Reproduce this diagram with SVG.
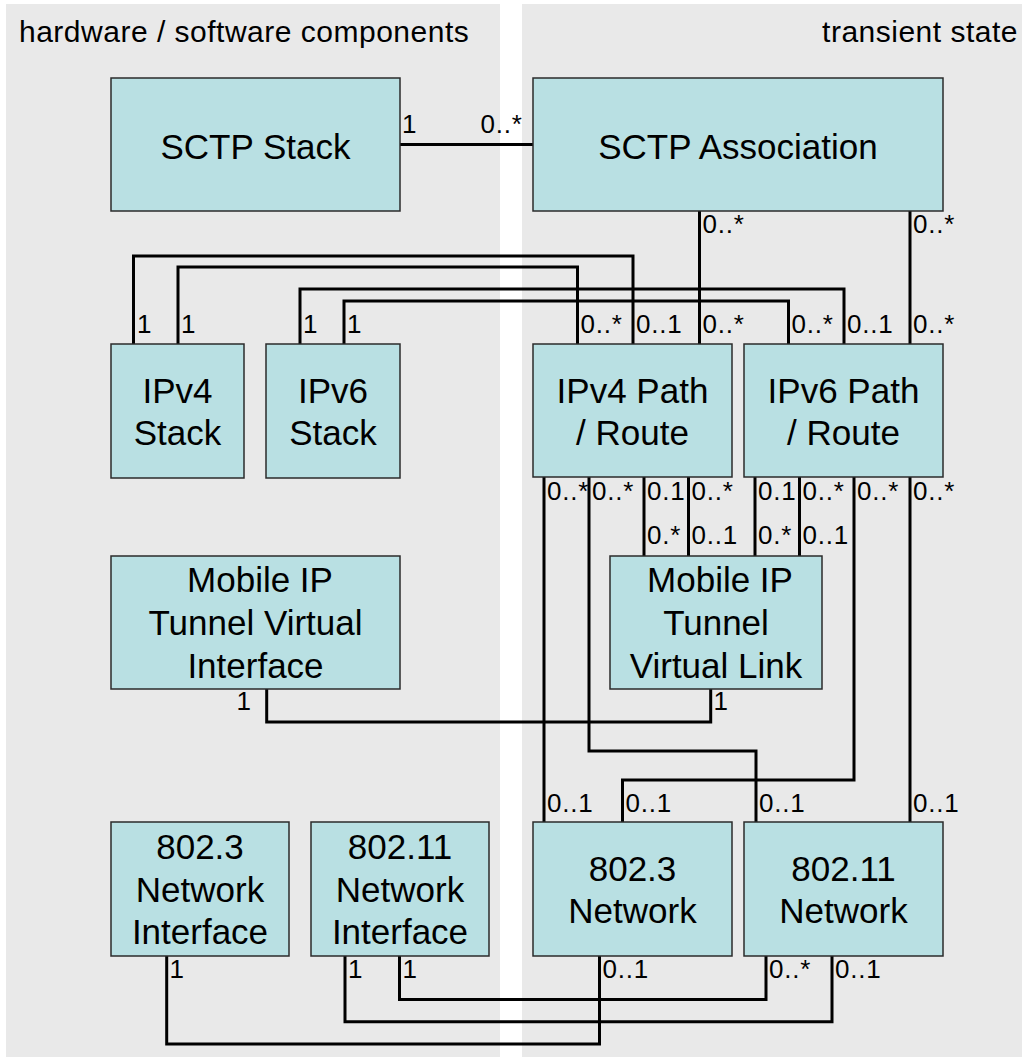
<svg xmlns="http://www.w3.org/2000/svg" width="1022" height="1057" viewBox="0 0 1022 1057">
  <style>
    .panel { fill: #e9e9e9; }
    .title { font-family: "Liberation Sans", Arial, sans-serif; font-size: 30px; letter-spacing: 0.5px; fill: #000; }
    .box { fill: #b9e0e3; stroke: #2b2b2b; stroke-width: 1.5; }
    .name { font-family: "Liberation Sans", Arial, sans-serif; font-size: 35px; fill: #000; text-anchor: middle; }
    .wire { fill: none; stroke: #000; stroke-width: 3; stroke-linejoin: miter; stroke-linecap: butt; }
    .mult { font-family: "Liberation Sans", Arial, sans-serif; font-size: 26px; letter-spacing: 0.8px; fill: #000; }
  </style>

  <!-- swim lanes -->
  <g id="lanes">
    <rect class="panel" x="6" y="4" width="494" height="1053"/>
    <rect class="panel" x="522" y="4" width="500" height="1053"/>
    <text class="title" x="19" y="42">hardware / software components</text>
    <text class="title" x="1018" y="42" text-anchor="end">transient state</text>
  </g>

  <!-- associations -->
  <g id="connectors">
    <path class="wire" d="M400,144.5 H533"/>
    <path class="wire" d="M699.5,211 V344"/>
    <path class="wire" d="M910,211 V344"/>
    <path class="wire" d="M133.5,344 V256 H633 V344"/>
    <path class="wire" d="M178,344 V267 H577.5 V344"/>
    <path class="wire" d="M300,344 V289 H844 V344"/>
    <path class="wire" d="M344,344 V301 H788.5 V344"/>
    <path class="wire" d="M544,477 V822"/>
    <path class="wire" d="M589,477 V751 H756 V822"/>
    <path class="wire" d="M644,477 V556"/>
    <path class="wire" d="M688.5,477 V556"/>
    <path class="wire" d="M755,477 V556"/>
    <path class="wire" d="M799.5,477 V556"/>
    <path class="wire" d="M854,477 V780 H622.5 V822"/>
    <path class="wire" d="M910,477 V822"/>
    <path class="wire" d="M266.7,689 V722 H710.7 V689"/>
    <path class="wire" d="M166.7,956 V1044 H599.5 V956"/>
    <path class="wire" d="M345,956 V1021.7 H832 V956"/>
    <path class="wire" d="M399.5,956 V999.5 H766 V956"/>

    <!-- multiplicities -->
    <g class="mult">
      <text x="402" y="133">1</text>
      <text x="480.5" y="133">0..*</text>
      <text x="702.5" y="233">0..*</text>
      <text x="913" y="233">0..*</text>

      <text x="137" y="333">1</text>
      <text x="181" y="333">1</text>
      <text x="303" y="333">1</text>
      <text x="347" y="333">1</text>

      <text x="580.5" y="333">0..*</text>
      <text x="636" y="333">0..1</text>
      <text x="702.5" y="333">0..*</text>
      <text x="791.5" y="333">0..*</text>
      <text x="847" y="333">0..1</text>
      <text x="913" y="333">0..*</text>

      <text x="547" y="499.5">0..*</text>
      <text x="592" y="499.5">0..*</text>
      <text x="647" y="499.5">0.1</text>
      <text x="691.5" y="499.5">0..*</text>
      <text x="758" y="499.5">0.1</text>
      <text x="802.5" y="499.5">0..*</text>
      <text x="857" y="499.5">0..*</text>
      <text x="913" y="499.5">0..*</text>

      <text x="647" y="543.5">0.*</text>
      <text x="691.5" y="543.5">0..1</text>
      <text x="758" y="543.5">0.*</text>
      <text x="802.5" y="543.5">0..1</text>

      <text x="236.5" y="710">1</text>
      <text x="713.5" y="710">1</text>

      <text x="547" y="811.5">0..1</text>
      <text x="625.5" y="811.5">0..1</text>
      <text x="759" y="811.5">0..1</text>
      <text x="913" y="811.5">0..1</text>

      <text x="169.5" y="978">1</text>
      <text x="348" y="978">1</text>
      <text x="402.5" y="978">1</text>
      <text x="602.5" y="978">0..1</text>
      <text x="769" y="978">0..*</text>
      <text x="835" y="978">0..1</text>
    </g>
  </g>

  <!-- classes -->
  <g id="sctp-stack">
    <rect class="box" x="111" y="78" width="289" height="133"/>
    <text class="name" x="255.5" y="158.5">SCTP Stack</text>
  </g>
  <g id="sctp-association">
    <rect class="box" x="533" y="78" width="410" height="133"/>
    <text class="name" x="738" y="158.5">SCTP Association</text>
  </g>
  <g id="ipv4-stack">
    <rect class="box" x="111" y="344" width="133" height="134"/>
    <text class="name" x="177.5" y="403">IPv4</text>
    <text class="name" x="177.5" y="445">Stack</text>
  </g>
  <g id="ipv6-stack">
    <rect class="box" x="266" y="344" width="134" height="134"/>
    <text class="name" x="333" y="403">IPv6</text>
    <text class="name" x="333" y="445">Stack</text>
  </g>
  <g id="ipv4-path">
    <rect class="box" x="533" y="344" width="199" height="133"/>
    <text class="name" x="632.5" y="403">IPv4 Path</text>
    <text class="name" x="632.5" y="444.5">/ Route</text>
  </g>
  <g id="ipv6-path">
    <rect class="box" x="744" y="344" width="199" height="133"/>
    <text class="name" x="843.5" y="403">IPv6 Path</text>
    <text class="name" x="843.5" y="444.5">/ Route</text>
  </g>
  <g id="mip-tunnel-interface">
    <rect class="box" x="111" y="556" width="289" height="133"/>
    <text class="name" x="260" y="591.5">Mobile IP</text>
    <text class="name" x="255.5" y="635">Tunnel Virtual</text>
    <text class="name" x="255.5" y="677.5">Interface</text>
  </g>
  <g id="mip-tunnel-link">
    <rect class="box" x="610" y="556" width="212" height="133"/>
    <text class="name" x="720" y="591.5">Mobile IP</text>
    <text class="name" x="716" y="635">Tunnel</text>
    <text class="name" x="716" y="677.5">Virtual Link</text>
  </g>
  <g id="nic-8023">
    <rect class="box" x="111" y="822" width="178" height="134"/>
    <text class="name" x="200" y="859">802.3</text>
    <text class="name" x="200" y="901.5">Network</text>
    <text class="name" x="200" y="944">Interface</text>
  </g>
  <g id="nic-80211">
    <rect class="box" x="311" y="822" width="178" height="134"/>
    <text class="name" x="400" y="859">802.11</text>
    <text class="name" x="400" y="901.5">Network</text>
    <text class="name" x="400" y="944">Interface</text>
  </g>
  <g id="net-8023">
    <rect class="box" x="533" y="822" width="199" height="134"/>
    <text class="name" x="632.5" y="880.5">802.3</text>
    <text class="name" x="632.5" y="922.5">Network</text>
  </g>
  <g id="net-80211">
    <rect class="box" x="744" y="822" width="199" height="134"/>
    <text class="name" x="843.5" y="880.5">802.11</text>
    <text class="name" x="843.5" y="922.5">Network</text>
  </g>
</svg>
